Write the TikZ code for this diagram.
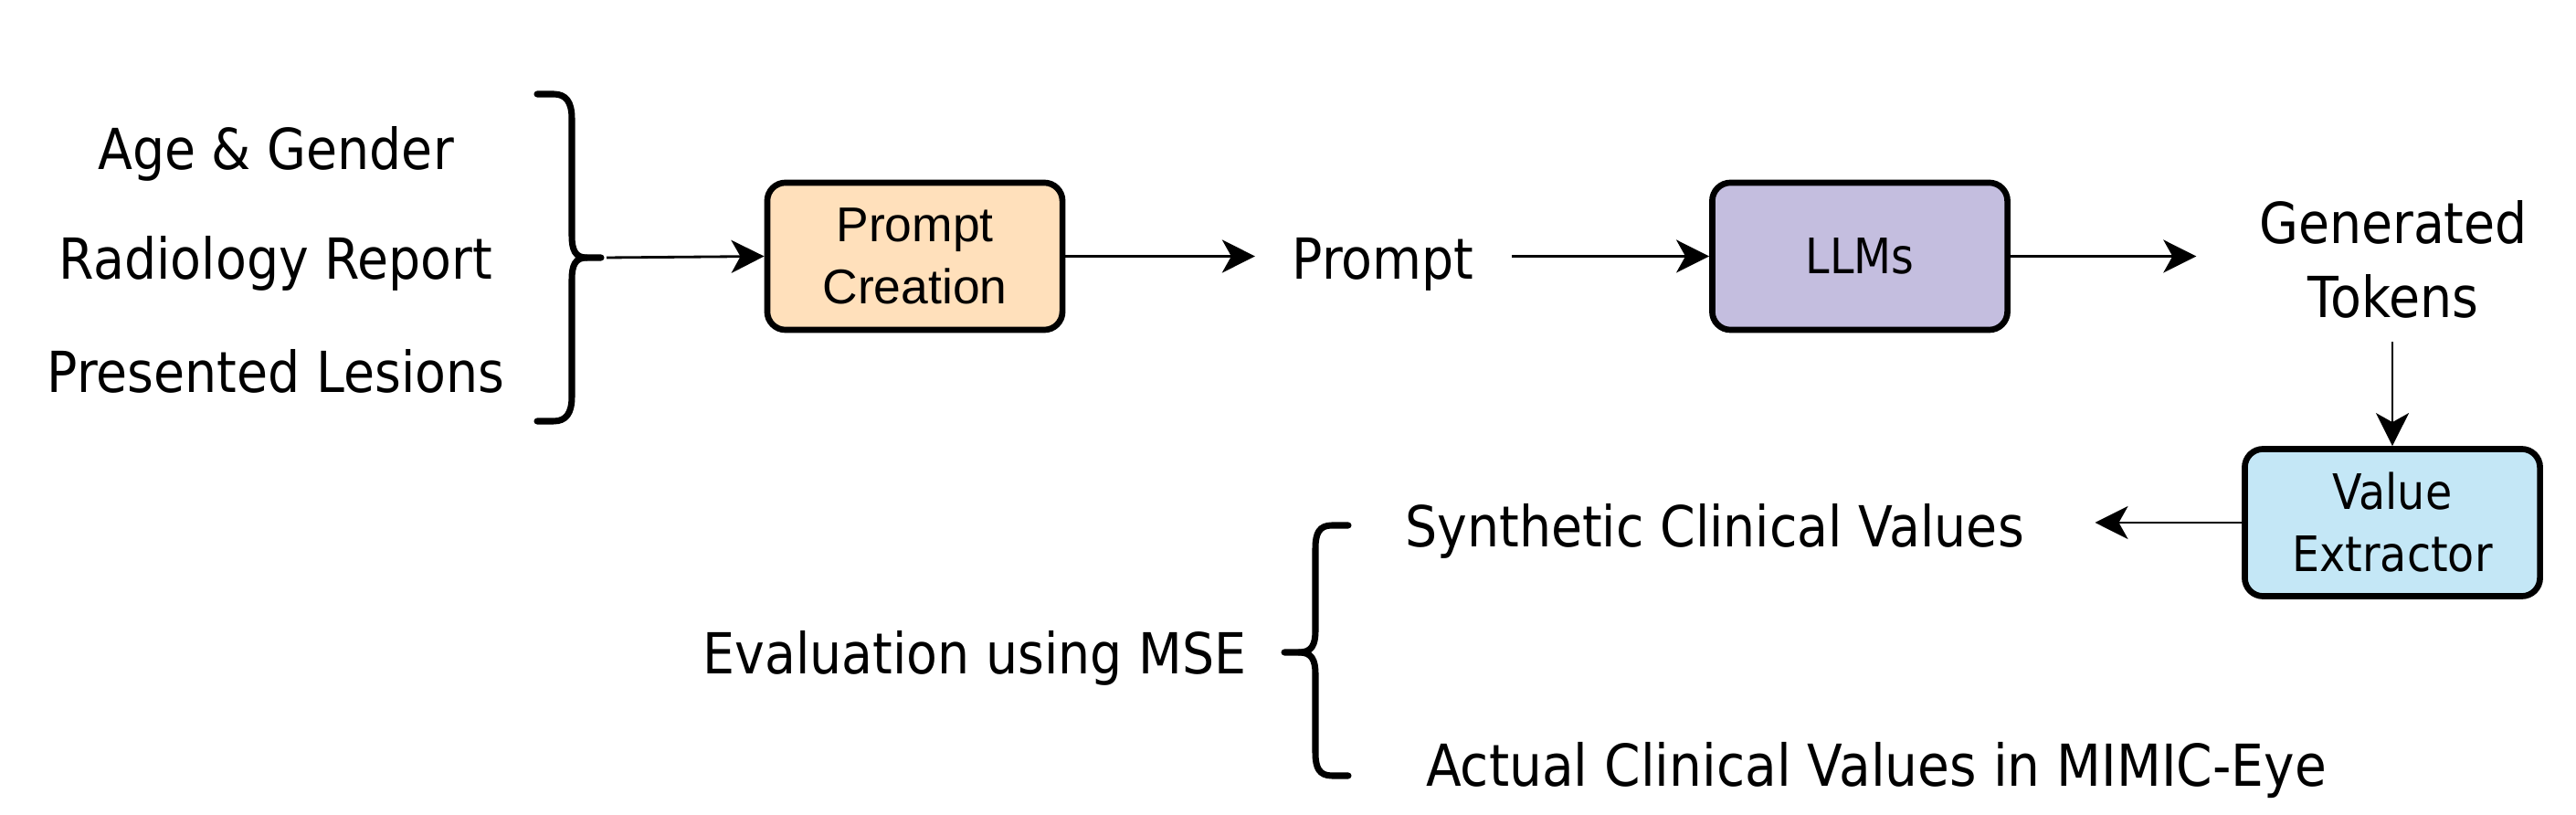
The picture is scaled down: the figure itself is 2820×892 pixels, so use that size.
\documentclass[tikz,border=0pt]{standalone}
\usepackage{fontspec}
\setmainfont[FakeStretch=0.895]{DejaVu Sans}
\newfontfamily\boxfont[FakeStretch=0.89]{DejaVu Sans}
\newfontfamily\arialf{Liberation Sans}
\usetikzlibrary{arrows.meta}
\definecolor{pcfill}{HTML}{FFE0BB}
\definecolor{llmfill}{HTML}{C4BEDF}
\definecolor{vefill}{HTML}{C4E7F6}
\tikzset{
  txt/.style={inner sep=0pt, font=\fontsize{17.6}{23}\selectfont, anchor=base},
  blk/.style={draw=black, line width=1.9pt, rounded corners=0.2cm, minimum width=3.23cm, minimum height=1.61cm, align=center, inner sep=0pt, font=\boxfont\fontsize{15.2}{19.3}\selectfont},
  conn/.style={line width=0.8pt, -{Stealth[length=0.36cm, width=0.36cm, inset=0.1cm]}},
  brc/.style={line width=2pt, line cap=round, line join=round}
}
\begin{document}
\begin{tikzpicture}[x=0.01cm, y=-0.01cm]
\useasboundingbox (0,0) rectangle (2820,892);
% left inputs
\node[txt] (age) at (302,186) {Age \& Gender};
\node[txt] (radio) at (302,306) {Radiology Report};
\node[txt] (lesions) at (302,430) {Presented Lesions};
\draw[brc] (588,103) -- (606,103) .. controls (620,103) and (626,112) .. (626,130) -- (626,258) .. controls (626,274) and (630,282) .. (642,282) -- (658,282);
\draw[brc] (642,282) .. controls (630,282) and (626,290) .. (626,306) -- (626,434) .. controls (626,452) and (620,461) .. (606,461) -- (588,461);
\coordinate (b1) at (664,282);
% boxes
\node[blk, fill=pcfill, font=\arialf\fontsize{15.2}{19.3}\selectfont] (pc) at (1001.5,280.5) {Prompt\\Creation};
\node[txt] (prompt) at (1514,306) {Prompt};
\node[blk, fill=llmfill] (llm) at (2036,280.5) {LLMs};
\node[txt, anchor=center, align=center] (gen) at (2620,284) {Generated\\Tokens};
\node[blk, fill=vefill] (ve) at (2619,572) {Value\\Extractor};
\node[txt] (synth) at (1877,599) {Synthetic Clinical Values};
\node[txt] (evalu) at (1067,738) {Evaluation using MSE};
\node[txt, font=\fontsize{18}{23}\selectfont] (actual) at (2054,861) {Actual Clinical Values in MIMIC-Eye};
\draw[brc] (1476,575) -- (1458,575) .. controls (1444,575) and (1440,584) .. (1440,600) -- (1440,690) .. controls (1440,706) and (1436,714) .. (1422,714) -- (1406,714);
\draw[brc] (1422,714) .. controls (1436,714) and (1440,722) .. (1440,738) -- (1440,824) .. controls (1440,840) and (1444,849) .. (1458,849) -- (1476,849);
% connectors
\draw[conn] (b1) -- (pc.west);
\draw[conn, shorten >=0.4cm] (pc.east) -- (pc.east -| prompt.west);
\draw[conn, shorten <=0.41cm] (llm.west -| prompt.east) -- (llm.west);
\draw[conn, shorten >=0.68cm] (llm.east) -- (llm.east -| gen.west);
\draw[conn, shorten <=0.25cm] (gen.south -| ve.north) -- (ve.north);
\draw[conn, shorten >=0.77cm] (ve.west) -- (ve.west -| synth.east);
\end{tikzpicture}
\end{document}
